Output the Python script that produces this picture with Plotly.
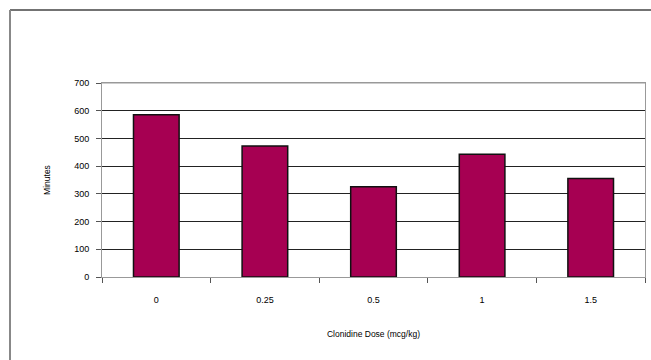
import plotly.graph_objects as go

doses = ["0", "0.25", "0.5", "1", "1.5"]
minutes = [585, 473, 326, 443, 355]
y_ticks = [0, 100, 200, 300, 400, 500, 600, 700]

W, H = 651, 360
L, R, T, B = 102, 6, 83, 83
pw, ph = W - L - R, H - T - B

fig = go.Figure(go.Bar(
    x=doses, y=minutes,
    marker=dict(color="#A60052", line=dict(color="#111111", width=1.5)),
))

def px_x(x):
    return (x - L) / pw

def px_y(y):
    return 1 - (y - T) / ph

shapes = [
    dict(type="line", xref="paper", yref="paper", x0=px_x(10), x1=px_x(660), y0=px_y(10), y1=px_y(10),
         line=dict(color="#444444", width=1.5)),
    dict(type="line", xref="paper", yref="paper", x0=px_x(10), x1=px_x(10), y0=px_y(10), y1=px_y(370),
         line=dict(color="#888888", width=2)),
    dict(type="line", xref="paper", yref="y", x0=0, x1=1, y0=700, y1=700,
         line=dict(color="#999999", width=1), layer="above"),
]

fig.update_layout(
    width=W, height=H,
    margin=dict(l=L, r=R, t=T, b=B, autoexpand=False),
    paper_bgcolor="white", plot_bgcolor="white",
    bargap=0.58,
    showlegend=False,
    font=dict(family="Liberation Sans, Arial", size=9, color="#000000"),
    shapes=shapes,
    xaxis=dict(
        type="category", automargin=False,
        showline=True, linecolor="#999999", linewidth=1, mirror=True,
        ticks="outside", ticklen=5, tickcolor="#555555", tickson="boundaries",
        showgrid=False,
        ticklabelstandoff=14,
        title=dict(text="Clonidine Dose (mcg/kg)", font=dict(size=8.5), standoff=27),
    ),
    yaxis=dict(
        range=[0, 700], tickvals=y_ticks, automargin=False,
        showline=True, linecolor="#999999", linewidth=1, mirror=True,
        ticks="outside", ticklen=5, tickcolor="#555555",
        showgrid=True, gridcolor="#222222", gridwidth=1,
        zeroline=False,
        ticklabelstandoff=5,
        title=dict(text="Minutes", font=dict(size=8.5), standoff=22),
    ),
)

fig.write_html(
    "out.html",
    config={"displayModeBar": False},
    post_script="document.body.style.margin='0';document.body.style.overflow='hidden';",
)
